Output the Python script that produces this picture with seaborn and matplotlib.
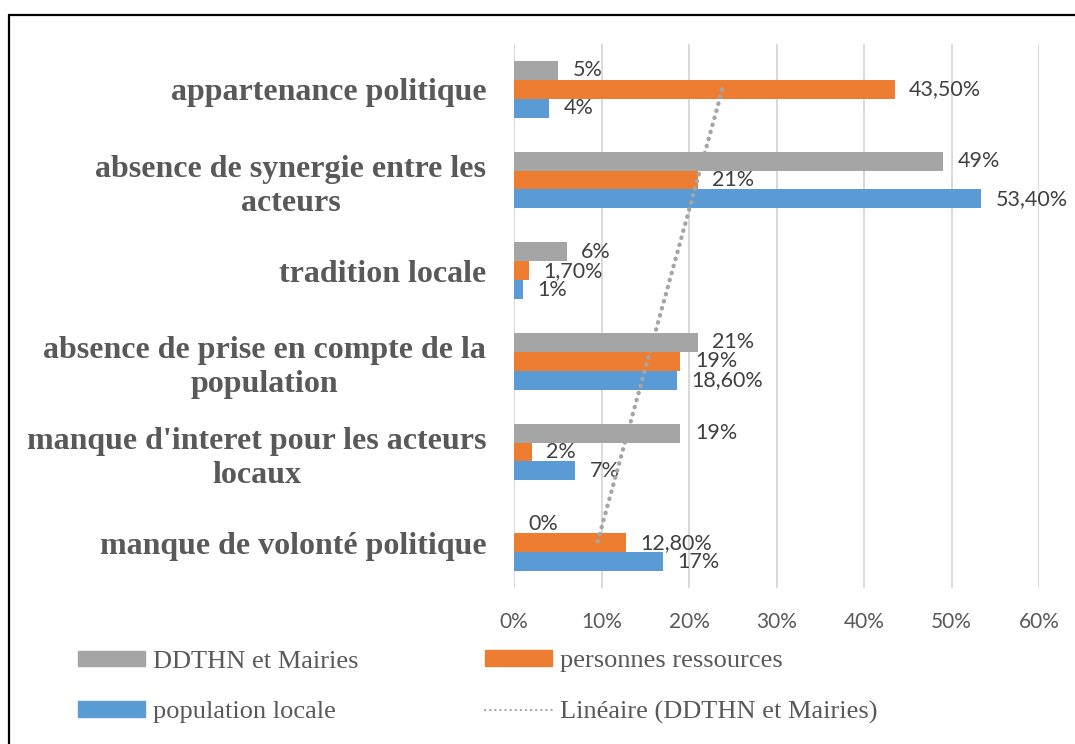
import numpy as np
import pandas as pd
import matplotlib
matplotlib.use("Agg")
import matplotlib.pyplot as plt
from matplotlib.patches import Patch, Rectangle
from matplotlib.lines import Line2D
import seaborn as sns

# Causes, listed top to bottom as they appear on the chart
categories = [
    "appartenance politique",
    "absence de synergie entre les\nacteurs",
    "tradition locale",
    "absence de prise en compte de la\npopulation",
    "manque d'interet pour les acteurs\nlocaux",
    "manque de volonté politique",
]
series = ["DDTHN et Mairies", "personnes ressources", "population locale"]
ddthn = [5, 49, 6, 21, 19, 0]
personnes = [43.5, 21, 1.7, 19, 2, 12.8]
population = [4, 53.4, 1, 18.6, 7, 17]
x_ticks = [0, 10, 20, 30, 40, 50, 60]
trend_label = "Linéaire (DDTHN et Mairies)"

colors = {"DDTHN et Mairies": "#A5A5A5",
          "personnes ressources": "#ED7D31",
          "population locale": "#5B9BD5"}

values = {"DDTHN et Mairies": ddthn,
          "personnes ressources": personnes,
          "population locale": population}
df = pd.DataFrame([
    {"cause": c, "groupe": s, "valeur": v}
    for s in series for c, v in zip(categories, values[s])
])

sns.set_theme(style="white")
plt.rcParams["font.family"] = ["Lato", "DejaVu Sans"]

W, H = 1075, 744
fig = plt.figure(figsize=(W / 100, H / 100), dpi=100)
ax = fig.add_axes([514 / W, 1 - 588 / H, (1039 - 514) / W, (588 - 44) / H])

sns.barplot(data=df, y="cause", x="valeur", hue="groupe",
            order=categories, hue_order=series, palette=colors,
            orient="h", width=0.625, saturation=1, linewidth=0,
            errorbar=None, legend=False, ax=ax)


def fmt(v):
    if float(v).is_integer():
        return f"{v:.0f}%"
    return f"{v:.2f}%".replace(".", ",")


for cont, s in zip(ax.containers, series):
    ax.bar_label(cont, labels=[fmt(v) for v in values[s]], padding=10.5,
                 fontsize=15.5, color="#404040", family=["Lato", "DejaVu Sans"])

# Linear trendline of the DDTHN et Mairies series across the categories
pos = np.arange(len(categories))
slope, intercept = np.polyfit(pos, ddthn, 1)
ends = np.array([pos[0], pos[-1]])
ax.plot(slope * ends + intercept, ends, color="#A5A5A5", lw=3.1,
        linestyle=(0, (0.1, 1.6)), dash_capstyle="round", zorder=5)

ax.set_xlim(0, 60)
ax.set_ylim(len(categories) - 0.5, -0.5)
ax.set_xticks(x_ticks)
ax.set_xticklabels([f"{t}%" for t in x_ticks], fontsize=15, color="#595959")
ax.set_xlabel("")
ax.set_ylabel("")
ax.grid(axis="x", color="#D9D9D9", lw=1.4)
ax.grid(axis="y", visible=False)
ax.set_axisbelow(True)
for sp in ax.spines.values():
    sp.set_visible(False)
ax.axvline(0, color="#D9D9D9", lw=1.4, zorder=0)
ax.tick_params(axis="x", length=0, pad=17)
ax.tick_params(axis="y", length=0, pad=20)
for lab in ax.get_yticklabels():
    lab.set_fontfamily(["Liberation Serif", "DejaVu Serif"])
    lab.set_fontweight("bold")
    lab.set_fontsize(23)
    lab.set_color("#595959")
    lab.set_multialignment("center")
    lab.set_linespacing(1.25)

# Legend in two columns below the plot
leg_font = {"family": ["Liberation Serif", "DejaVu Serif"], "size": 19}
col1 = [Patch(color=colors[series[0]], label=series[0]),
        Patch(color=colors[series[2]], label=series[2])]
col2 = [Patch(color=colors[series[1]], label=series[1]),
        Line2D([], [], color="#A5A5A5", lw=1.6, linestyle=(0, (0.1, 2.2)),
               dash_capstyle="round", label=trend_label)]
for handles, x0 in ((col1, 78), (col2, 485)):
    leg = fig.legend(handles=handles, loc="center left",
                     bbox_to_anchor=(x0 / W, 1 - 687 / H), frameon=False,
                     prop=leg_font, borderpad=0, borderaxespad=0,
                     handlelength=2.54, handleheight=0.53, handletextpad=0.3,
                     labelspacing=1.08)
    for t in leg.get_texts():
        t.set_color("#595959")

# Outer frame
fig.add_artist(Rectangle((8.5 / W, -0.05), 1.1, 1 - 15 / H + 0.05,
                         transform=fig.transFigure, fill=False,
                         edgecolor="black", lw=1.6))

fig.savefig("out.png", dpi=100)
